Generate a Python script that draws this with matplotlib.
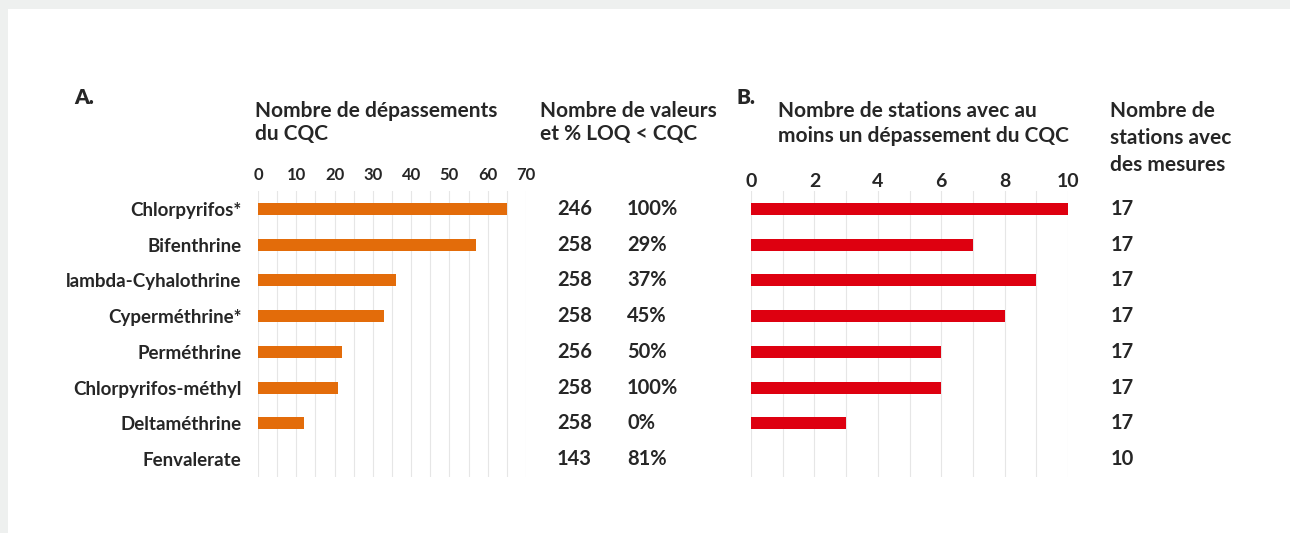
import numpy as np
import matplotlib
matplotlib.use("Agg")
import matplotlib.pyplot as plt
import matplotlib.transforms as mtransforms
from matplotlib.patches import Rectangle

plt.rcParams['font.family'] = ['Lato', 'DejaVu Sans']

substances = ["Chlorpyrifos*", "Bifenthrine", "lambda-Cyhalothrine", "Cyperméthrine*",
              "Perméthrine", "Chlorpyrifos-méthyl", "Deltaméthrine", "Fenvalerate"]
depassements = [65, 57, 36, 33, 22, 21, 12, 0]
nb_valeurs = [246, 258, 258, 258, 256, 258, 258, 143]
pct_loq = ["100%", "29%", "37%", "45%", "50%", "100%", "0%", "81%"]
stations_dep = [10, 7, 9, 8, 6, 6, 3, 0]
stations_mes = [17, 17, 17, 17, 17, 17, 17, 10]

W, H = 1290, 533
TXT = "#262626"
ORANGE = "#E36C0A"
RED = "#DE0010"
GRID = "#e6e6e6"

fig = plt.figure(figsize=(W / 100, H / 100), dpi=100)
fig.patch.set_facecolor("#eef0ef")
fig.patches.append(Rectangle((8 / W, 0), 1, 1 - 9 / H, transform=fig.transFigure,
                             facecolor="white", edgecolor="none", zorder=-5))


def fx(px):
    return px / W


def fy(py):
    return 1 - py / H


def ptext(x, y, s, **kw):
    kw.setdefault("color", TXT)
    kw.setdefault("fontweight", "bold")
    kw.setdefault("va", "center")
    fig.text(fx(x), fy(y), s, **kw)


top, bottom = 191, 477
y = np.arange(len(substances))

# ---- Panel A
axA = fig.add_axes([fx(258), fy(bottom), fx(526 - 258), (bottom - top) / H])
axA.patch.set_alpha(0)
axA.barh(y, depassements, height=0.34, color=ORANGE)
axA.set_xlim(0, 70)
axA.set_ylim(len(substances) - 0.5, -0.5)
axA.set_xticks(np.arange(0, 71, 10))
axA.set_xticks(np.arange(0, 71, 5), minor=True)
axA.xaxis.tick_top()
axA.tick_params(axis="x", which="both", length=0, pad=6, labelsize=12, labelcolor=TXT)
axA.set_yticks(y)
axA.set_yticklabels(substances, fontsize=13.5, fontweight="bold", color=TXT)
axA.tick_params(axis="y", length=0, pad=12)
for lab in axA.get_xticklabels():
    lab.set_fontweight("bold")
axA.grid(axis="x", which="both", color=GRID, lw=0.8)
axA.set_axisbelow(True)
for sp in axA.spines.values():
    sp.set_visible(False)

# ---- Panel B
axB = fig.add_axes([fx(751), fy(bottom), fx(1068 - 751), (bottom - top) / H])
axB.patch.set_alpha(0)
axB.barh(y, stations_dep, height=0.34, color=RED)
axB.set_xlim(0, 10)
axB.set_ylim(len(substances) - 0.5, -0.5)
axB.set_xticks(np.arange(0, 11, 2))
axB.set_xticks(np.arange(0, 11, 1), minor=True)
axB.xaxis.tick_top()
axB.tick_params(axis="x", which="both", length=0, pad=1, labelsize=14, labelcolor=TXT)
for lab in axB.get_xticklabels():
    lab.set_fontweight("bold")
axB.set_yticks([])
axB.grid(axis="x", which="both", color=GRID, lw=0.8)
axB.set_axisbelow(True)
for sp in axB.spines.values():
    sp.set_visible(False)

# ---- value columns
trA = mtransforms.blended_transform_factory(fig.transFigure, axA.transData)
for i in y:
    fig.text(fx(557), i, str(nb_valeurs[i]), transform=trA, ha="left", va="center",
             fontsize=14.5, fontweight="bold", color=TXT)
    fig.text(fx(627), i, pct_loq[i], transform=trA, ha="left", va="center",
             fontsize=14.5, fontweight="bold", color=TXT)
    fig.text(fx(1111), i, str(stations_mes[i]), transform=trA, ha="left", va="center",
             fontsize=14.5, fontweight="bold", color=TXT)

# ---- headers
ptext(74, 97, "A.", fontsize=15, fontweight="heavy")
ptext(736, 97, "B.", fontsize=15, fontweight="heavy")
ptext(255, 111, "Nombre de dépassements", fontsize=15)
ptext(255, 134, "du CQC", fontsize=15)
ptext(540, 111, "Nombre de valeurs", fontsize=15)
ptext(540, 134, "et % LOQ < CQC", fontsize=15)
ptext(778, 111, "Nombre de stations avec au", fontsize=15)
ptext(778, 136, "moins un dépassement du CQC", fontsize=15)
ptext(1110, 111, "Nombre de", fontsize=15)
ptext(1110, 138, "stations avec", fontsize=15)
ptext(1110, 165, "des mesures", fontsize=15)

fig.savefig("out.png", dpi=100, facecolor=fig.get_facecolor())
